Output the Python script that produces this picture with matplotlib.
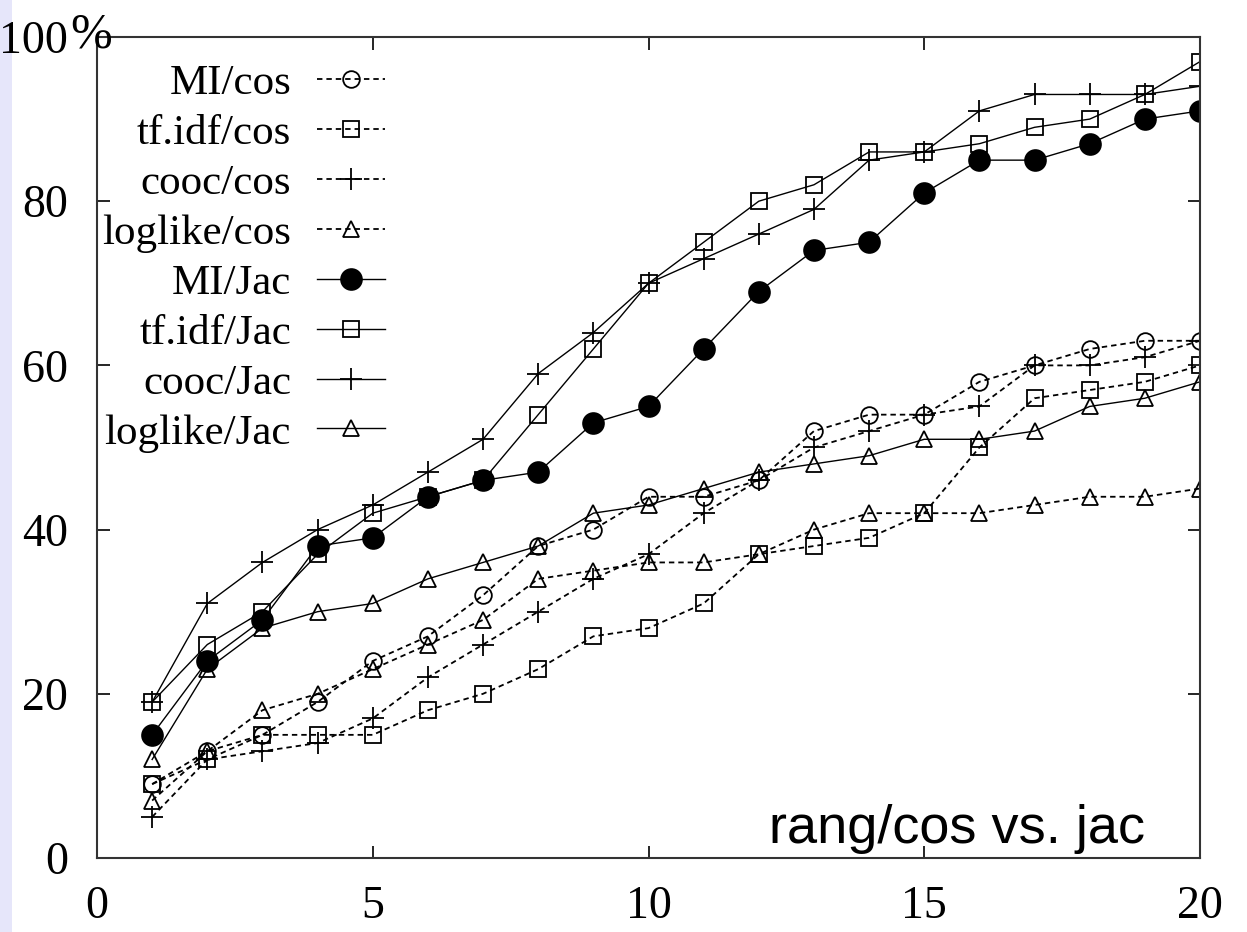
import matplotlib
matplotlib.use('Agg')
import matplotlib.pyplot as plt
from matplotlib.patches import Rectangle

# rank positions on the x axis
ranks = list(range(1, 21))

# cosine-based series (dashed)
mi_cos = [9, 13, 15, 19, 24, 27, 32, 38, 40, 44, 44, 46, 52, 54, 54, 58, 60, 62, 63, 63]
tfidf_cos = [9, 12, 15, 15, 15, 18, 20, 23, 27, 28, 31, 37, 38, 39, 42, 50, 56, 57, 58, 60]
cooc_cos = [5, 12, 13, 14, 17, 22, 26, 30, 34, 37, 42, 46, 50, 52, 54, 55, 60, 60, 61, 63]
loglike_cos = [7, 13, 18, 20, 23, 26, 29, 34, 35, 36, 36, 37, 40, 42, 42, 42, 43, 44, 44, 45]

# Jaccard-based series (solid)
mi_jac = [15, 24, 29, 38, 39, 44, 46, 47, 53, 55, 62, 69, 74, 75, 81, 85, 85, 87, 90, 91]
tfidf_jac = [19, 26, 30, 37, 42, 44, 46, 54, 62, 70, 75, 80, 82, 86, 86, 87, 89, 90, 93, 97]
cooc_jac = [19, 31, 36, 40, 43, 47, 51, 59, 64, 70, 73, 76, 79, 85, 86, 91, 93, 93, 93, 94]
loglike_jac = [12, 23, 28, 30, 31, 34, 36, 38, 42, 43, 45, 47, 48, 49, 51, 51, 52, 55, 56, 58]

x_ticks = [0, 5, 10, 15, 20]
y_ticks = [0, 20, 40, 60, 80, 100]

plt.rcParams['font.family'] = ['Liberation Serif', 'DejaVu Serif']

fig = plt.figure(figsize=(12.47, 9.32), dpi=100)
fig.patches.append(Rectangle((0, 0), 12 / 1247, 1, transform=fig.transFigure,
                             facecolor='#e6e6fa', edgecolor='none', zorder=-1))
ax = fig.add_axes([97 / 1247, 74 / 932, 1103 / 1247, 821 / 932])

dash = (0, (3, 2.2))
lw_d = 1.3
lw = 1.0
mew = 1.3

ax.plot(ranks, mi_cos, color='black', lw=lw_d, linestyle=dash, marker='o', ms=12,
        mfc='none', mew=mew, label='MI/cos')
ax.plot(ranks, tfidf_cos, color='black', lw=lw_d, linestyle=dash, marker='s', ms=12,
        mfc='none', mew=mew, label='tf.idf/cos')
ax.plot(ranks, cooc_cos, color='black', lw=lw_d, linestyle=dash, marker='+', ms=16,
        mew=mew, label='cooc/cos')
ax.plot(ranks, loglike_cos, color='black', lw=lw_d, linestyle=dash, marker='^', ms=12,
        mfc='none', mew=mew, label='loglike/cos')

ax.plot(ranks, mi_jac, color='black', lw=lw, linestyle='-', marker='o', ms=15,
        mfc='black', mew=mew, label='MI/Jac')
ax.plot(ranks, tfidf_jac, color='black', lw=lw, linestyle='-', marker='s', ms=12,
        mfc='none', mew=mew, label='tf.idf/Jac')
ax.plot(ranks, cooc_jac, color='black', lw=lw, linestyle='-', marker='+', ms=16,
        mew=mew, label='cooc/Jac')
ax.plot(ranks, loglike_jac, color='black', lw=lw, linestyle='-', marker='^', ms=12,
        mfc='none', mew=mew, label='loglike/Jac')

ax.set_xlim(0, 20)
ax.set_ylim(0, 100)
ax.set_xticks(x_ticks)
ax.set_yticks(y_ticks)
ax.set_xticklabels([str(t) for t in x_ticks])
ax.set_yticklabels([str(t) for t in y_ticks])
ax.tick_params(direction='in', length=9, width=1.2, top=True, right=True,
               labelsize=33)
ax.tick_params(axis='y', pad=21)
ax.tick_params(axis='x', pad=20)
for s in ax.spines.values():
    s.set_linewidth(1.5)
    s.set_color('#333333')

ax.legend(loc='upper right', bbox_to_anchor=(0.261, 0.967), markerfirst=False,
          frameon=False, fontsize=31, handlelength=1.58, handletextpad=0.6,
          labelspacing=0.25, borderpad=0, borderaxespad=0)

fig.text(70 / 1247, 1 - 35 / 932, '%', ha='left', va='center', fontsize=36)
ax.text(0.95, 0.018, 'rang/cos vs. jac', transform=ax.transAxes, ha='right',
        va='baseline', fontsize=39, family=['Liberation Sans', 'DejaVu Sans'])

fig.savefig('out.png', dpi=100)
